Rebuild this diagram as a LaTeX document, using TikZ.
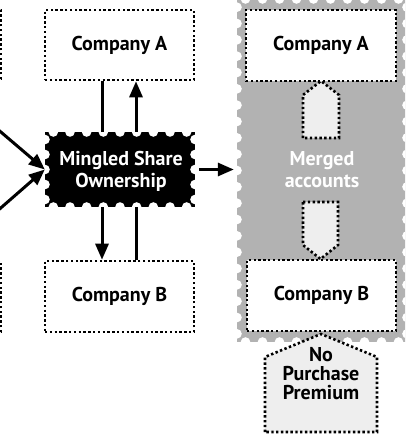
\documentclass[tikz,border=0pt]{standalone}
\usepackage{fontspec}
\setmainfont{PT Sans}
\usetikzlibrary{arrows.meta,calc}
\definecolor{stampgray}{RGB}{178,178,178}
\definecolor{lightfill}{RGB}{238,238,238}
\tikzset{
  dotline/.style={draw=black, line width=2.6pt, dash pattern=on 2.4pt off 2.4pt},
  dotbox/.style={dotline, fill=white, minimum width=149pt, minimum height=70pt,
    inner sep=0pt, font=\bfseries\fontsize{20}{22}\selectfont},
  stamptext/.style={align=center, inner sep=0pt, text=white,
    font=\bfseries\fontsize{20}{22}\selectfont},
  conn/.style={line width=3pt},
  arr/.style={conn, -{Triangle[length=16pt,width=13pt]}},
}
\newcommand{\mynotches}[6]{%
  \foreach \i in {1,...,#5}{%
    \fill[white] ({#1+(\i-0.5)*(#3-#1)/#5},#2) circle (4.8);
    \fill[white] ({#1+(\i-0.5)*(#3-#1)/#5},#4) circle (4.8);}
  \foreach \j in {1,...,#6}{%
    \fill[white] (#1,{#2+(\j-0.5)*(#4-#2)/#6}) circle (4.8);
    \fill[white] (#3,{#2+(\j-0.5)*(#4-#2)/#6}) circle (4.8);}
}
\begin{document}
\begin{tikzpicture}[x=1pt,y=-1pt]
\useasboundingbox (0,0) rectangle (405,442);
\clip (0,0) rectangle (405,442);
\fill[white] (0,0) rectangle (405,442);

% left partial boxes
\node[dotline, minimum width=149pt, minimum height=69pt, inner sep=0pt] (la) at (-73.5,44.5) {};
\node[dotline, minimum width=149pt, minimum height=71pt, inner sep=0pt] (lb) at (-73.5,296.5) {};

% gray stamp
\fill[stampgray] (237,-1) rectangle (407,342);
\mynotches{237}{-1}{407}{342}{10}{21}
\node[inner sep=0pt, minimum width=170pt, minimum height=343pt] (gs) at (322,170.5) {};

% black stamp
\node[fill=black, minimum width=150pt, minimum height=75pt, inner sep=0pt] (ms) at (120,169.5) {};
\mynotches{45}{132}{195}{207}{9}{5}
\node[stamptext] (mst) at (121,171) {Mingled Share\\Ownership};

% middle boxes
\node[dotbox] (ca) at (119.5,45) {Company A};
\node[dotbox, minimum height=71pt] (cb) at (119.5,296.5) {Company B};

% boxes in gray stamp
\node[dotbox, minimum width=150pt, minimum height=71pt] (ga) at (321,45.5) {Company A};
\node[dotbox, minimum width=149pt, minimum height=71pt] (gb) at (321.5,295.5) {Company B};

% small arrows in gray stamp
\draw[dotline, fill=lightfill] (303,138) -- (303,95) -- (321,81) -- (339,95) -- (339,138) -- cycle;
\draw[dotline, fill=lightfill] (303,202) -- (338,202) -- (338,245) -- (320.5,259) -- (303,245) -- cycle;
\node[stamptext] (mat) at (322,170) {Merged\\accounts};

% no purchase premium
\draw[dotline, fill=lightfill] (265,432) -- (265,357) -- (321,334) -- (377,357) -- (377,432) -- cycle;
\node[align=center, inner sep=0pt, font=\bfseries\fontsize{20}{19}\selectfont] (npp) at (321,374) {No\\Purchase\\Premium};

% connectors
\coordinate (xl) at (102,0);
\coordinate (xr) at (136,0);
\coordinate (fa) at (-5,127);
\coordinate (fb) at (-5,213);
\draw[conn] (ca.south -| xl) -- (ms.north -| xl);
\draw[arr] (ms.north -| xr) -- (ca.south -| xr);
\draw[arr] (ms.south -| xl) -- (cb.north -| xl);
\draw[conn] (cb.north -| xr) -- (ms.south -| xr);
\draw[arr] (fa) -- (ms.west);
\draw[arr] (fb) -- (ms.west);
\draw[arr, shorten <=4pt, shorten >=3pt] (ms.east) -- (ms.east -| gs.west);
\end{tikzpicture}
\end{document}
